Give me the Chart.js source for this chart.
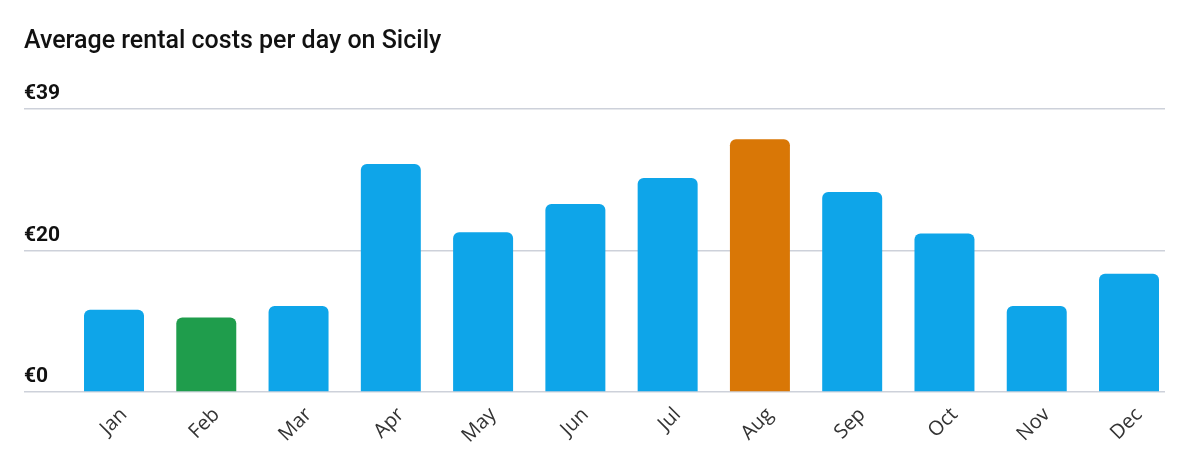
<!DOCTYPE html>
<html>
<head>
<meta charset="utf-8">
<script src="https://cdn.jsdelivr.net/npm/chart.js@4.4.1/dist/chart.umd.min.js"></script>
<style>
  html, body { margin: 0; padding: 0; background: #fff; }
  #wrap { width: 1200px; height: 476px; }
</style>
</head>
<body>
<div id="wrap"><canvas id="myChart"></canvas></div>
<script>
// Datos del gráfico
var months = ['Jan', 'Feb', 'Mar', 'Apr', 'May', 'Jun', 'Jul', 'Aug', 'Sep', 'Oct', 'Nov', 'Dec']
var costs = [11.7, 10.6, 12.2, 32.4, 22.7, 26.7, 30.4, 35.9, 28.4, 22.5, 12.2, 16.8]
var barColors = ['#0ea5e9', '#1f9d4c', '#0ea5e9', '#0ea5e9', '#0ea5e9', '#0ea5e9',
  '#0ea5e9', '#d97706', '#0ea5e9', '#0ea5e9', '#0ea5e9', '#0ea5e9']
var yTickValues = [0, 20, 40.2]
var yTickLabels = ['€0', '€20', '€39']

;(function () {
  'use strict'

  var points = months.map(function (m, i) { return { x: i + 1, y: costs[i] } })

  var ctx = document.getElementById('myChart')
  new Chart(ctx, {
    type: 'bar',
    data: {
      datasets: [{
        data: points,
        backgroundColor: barColors,
        borderRadius: { topLeft: 6, topRight: 6 },
        borderSkipped: 'start',
        barPercentage: 0.65,
        categoryPercentage: 1
      }]
    },
    options: {
      responsive: true,
      maintainAspectRatio: false,
      animation: false,
      layout: { padding: { left: 24, right: 35, top: 0, bottom: 0 } },
      plugins: {
        legend: { display: false },
        tooltip: { enabled: false },
        title: {
          display: true,
          text: 'Average rental costs per day on Sicily',
          align: 'start',
          color: '#111',
          font: { family: 'Roboto', size: 25, weight: '500' },
          padding: { top: 27, bottom: 52 }
        }
      },
      scales: {
        x: {
          type: 'linear',
          offset: false,
          min: 0.0246,
          max: 12.39,
          afterBuildTicks: function (scale) {
            scale.ticks = months.map(function (m, i) { return { value: i + 1 } })
          },
          afterFit: function (scale) { scale.height = 84 },
          grid: { display: false, drawTicks: false },
          border: { display: false },
          ticks: {
            autoSkip: false,
            minRotation: 45,
            maxRotation: 45,
            labelOffset: 10,
            padding: 11,
            color: '#333',
            font: { family: 'Open Sans', size: 20 },
            callback: function (v) { return months[v - 1] }
          }
        },
        y: {
          min: 0,
          max: 40.2,
          afterBuildTicks: function (scale) {
            scale.ticks = yTickValues.map(function (v) { return { value: v } })
          },
          afterFit: function (scale) { scale.width = 0 },
          grid: { color: '#cdd1da', lineWidth: 1.5, drawTicks: false },
          border: { display: false },
          ticks: {
            mirror: true,
            padding: 0,
            labelOffset: -15,
            color: '#111',
            font: { family: 'Roboto', size: 21, weight: 'bold' },
            callback: function (v, i) { return yTickLabels[i] }
          }
        }
      }
    }
  })
})()
</script>
</body>
</html>
